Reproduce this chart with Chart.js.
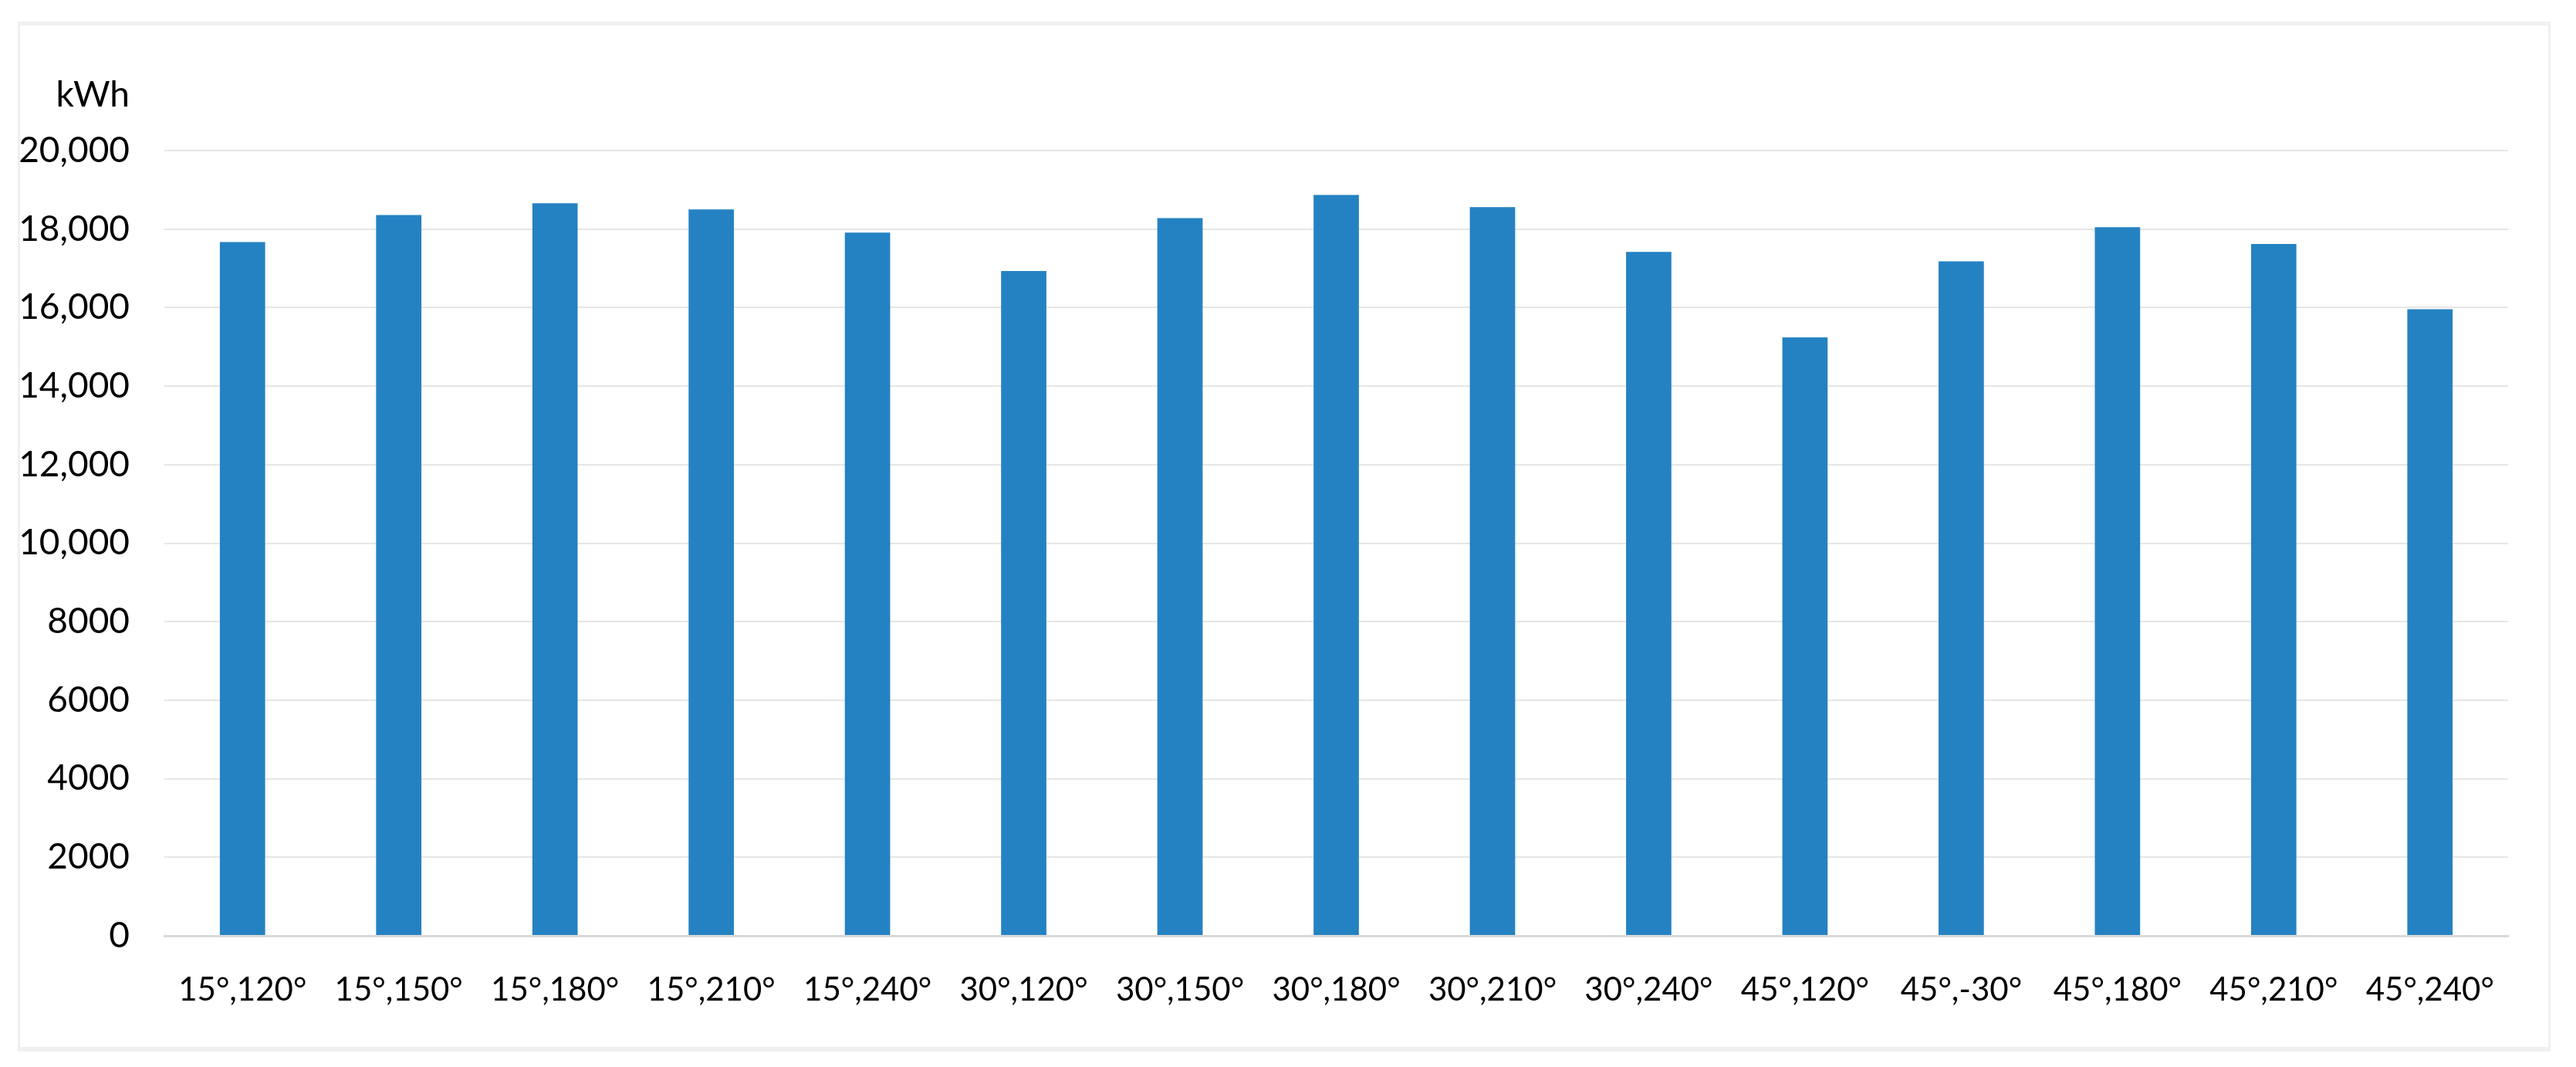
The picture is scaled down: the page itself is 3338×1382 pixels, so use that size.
<!DOCTYPE html>
<html>
<head>
<meta charset="utf-8">
<script src="https://cdn.jsdelivr.net/npm/chart.js@4/dist/chart.umd.min.js"></script>
<style>
  html, body { margin: 0; padding: 0; background: #ffffff; }
  #wrap { position: relative; width: 3338px; height: 1382px; }
  #frame { position: absolute; left: 23px; top: 28px; width: 3276px; height: 1323px;
           border-style: solid; border-color: #f0f0f0; border-width: 5px 3px 6px 3px; }
  canvas { position: absolute; left: 0; top: 0; }
</style>
</head>
<body>
<div id="wrap">
  <div id="frame"></div>
  <canvas id="c" width="3338" height="1382"></canvas>
</div>
<script>
const categories = ["15°,120°","15°,150°","15°,180°","15°,210°","15°,240°","30°,120°","30°,150°","30°,180°","30°,210°","30°,240°","45°,120°","45°,-30°","45°,180°","45°,210°","45°,240°"];
const energyKWh = [17670, 18360, 18660, 18500, 17910, 16930, 18280, 18870, 18560, 17420, 15240, 17180, 18050, 17620, 15960];
const yTickLabels = ["0","2000","4000","6000","8000","10,000","12,000","14,000","16,000","18,000","20,000"];
const unitLabel = "kWh";

const FONT = "Lato, 'Open Sans', sans-serif";

const unitPlugin = {
  id: 'unitLabel',
  afterDraw(chart) {
    const ys = chart.scales.y;
    const ctx = chart.ctx;
    ctx.save();
    ctx.font = "46px " + FONT;
    ctx.fillStyle = "#000000";
    ctx.textAlign = "right";
    ctx.textBaseline = "alphabetic";
    ctx.fillText(unitLabel, ys.right - 45, chart.chartArea.top - 57);
    ctx.restore();
  }
};

new Chart(document.getElementById('c'), {
  type: 'bar',
  data: {
    labels: categories,
    datasets: [{
      data: energyKWh,
      backgroundColor: '#2582c2',
      borderWidth: 0,
      barPercentage: 0.29,
      categoryPercentage: 1.0
    }]
  },
  options: {
    responsive: false,
    animation: false,
    devicePixelRatio: 1,
    layout: { padding: { left: 0, right: 88, top: 195, bottom: 80 } },
    plugins: { legend: { display: false }, tooltip: { enabled: false }, title: { display: false } },
    scales: {
      x: {
        grid: { display: false },
        border: { display: true, color: '#d9d9d9', width: 3 },
        ticks: { color: '#000000', font: { family: FONT, size: 42 }, padding: 37, maxRotation: 0, autoSkip: false },
        afterFit(scale) { scale.height = 90; }
      },
      y: {
        min: 0, max: 20000,
        grid: { color: (c) => c.tick && c.tick.value === 0 ? '#d9d9d9' : '#e6e6e6', lineWidth: 2, drawTicks: false },
        border: { display: false },
        ticks: {
          stepSize: 2000,
          color: '#000000',
          font: { family: FONT, size: 46 },
          padding: 45,
          callback: (v, i) => yTickLabels[i]
        },
        afterFit(scale) { scale.width = 213; }
      }
    }
  },
  plugins: [unitPlugin]
});
</script>
</body>
</html>
